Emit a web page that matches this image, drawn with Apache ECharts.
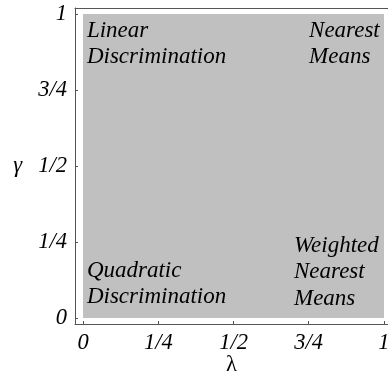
<!DOCTYPE html>
<html><head><meta charset="utf-8">
<script src="https://cdn.jsdelivr.net/npm/echarts@6/dist/echarts.min.js"></script>
<style>html,body{margin:0;padding:0;background:#fff}#c{width:388px;height:379px}</style>
</head><body><div id="c"></div>
<script>
// Ticks
const tickValues = [0, 0.25, 0.5, 0.75, 1];
const tickLabels = ['0', '1/4', '1/2', '3/4', '1'];
// Shaded region [x0, y0, x1, y1]
const regionX0 = [0];
const regionY0 = [0];
const regionX1 = [1];
const regionY1 = [1];
// Region annotations
const noteText = ['Linear\nDiscrimination', 'Nearest\nMeans', 'Weighted\nNearest\nMeans', 'Quadratic\nDiscrimination'];
const noteX = [0.013, 0.751, 0.701, 0.013];
const noteY = [0.988, 0.988, 0.281, 0.200];

const FONT = '"Liberation Serif", "Times New Roman", serif';
const FS = 23;
const TFS = 22.5;
const chart = echarts.init(document.getElementById('c'));
const labelMap = {};
tickValues.forEach((v, i) => labelMap[v] = tickLabels[i]);

const axisCommon = {
  type: 'value',
  splitLine: {show: false},
  nameMoveOverlap: false,
  axisLine: {show: true, onZero: false, lineStyle: {color: '#555', width: 1}},
  axisTick: {show: true, inside: true, length: 3, lineStyle: {color: '#555'}, customValues: tickValues},
  axisLabel: {customValues: tickValues, formatter: v => labelMap[v] ?? '', fontFamily: FONT, fontStyle: 'italic', fontSize: TFS, color: '#000', margin: 8},
  nameTextStyle: {fontFamily: FONT, fontSize: TFS, color: '#000'}
};
const frameAxis = {
  type: 'value',
  splitLine: {show: false},
  axisLine: {show: true, onZero: false, lineStyle: {color: '#555', width: 1}},
  axisTick: {show: false},
  axisLabel: {show: false}
};

chart.setOption({
  animation: false,
  grid: {left: 75, right: 0, top: 8, bottom: 55, containLabel: false, outerBoundsMode: 'none'},
  xAxis: [
    Object.assign({}, axisCommon, {
      min: -0.0266, max: 1.0133, position: 'bottom',
      name: 'λ', nameLocation: 'middle', nameGap: 30
    }),
    Object.assign({}, frameAxis, {min: -0.0266, max: 1.0133, position: 'top'})
  ],
  yAxis: Object.assign({}, axisCommon, {
    min: -0.0197, max: 1.0197,
    name: 'γ', nameLocation: 'middle', nameGap: 53, nameRotate: 0,
    nameTextStyle: {fontFamily: FONT, fontSize: TFS, fontStyle: 'italic', color: '#000'}
  }),
  series: [
    {
      type: 'custom',
      data: regionX0.map((x, i) => [x, regionY0[i], regionX1[i], regionY1[i]]),
      renderItem: (params, api) => {
        const p0 = api.coord([api.value(0), api.value(1)]);
        const p1 = api.coord([api.value(2), api.value(3)]);
        return {type: 'rect', shape: {x: p0[0], y: p1[1], width: p1[0] - p0[0], height: p0[1] - p1[1]}, style: {fill: '#c0c0c0'}};
      },
      silent: true, z: 1
    },
    {
      type: 'custom',
      data: noteX.map((x, i) => [x, noteY[i], i]),
      renderItem: (params, api) => {
        const p = api.coord([api.value(0), api.value(1)]);
        return {type: 'text', x: p[0], y: p[1], style: {text: noteText[api.value(2)], fill: '#000', font: 'italic ' + FS + 'px ' + FONT, lineHeight: 26.5, align: 'left', verticalAlign: 'top'}};
      },
      silent: true, z: 2
    }
  ]
});
</script></body></html>
